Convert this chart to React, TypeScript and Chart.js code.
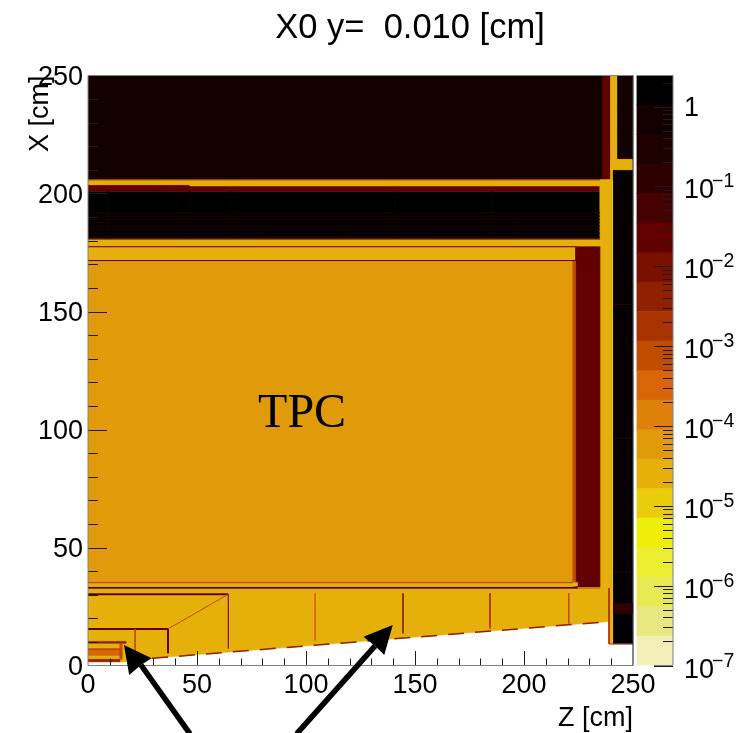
import React, { useEffect, useRef } from "react";
import { Chart, registerables } from "chart.js";

Chart.register(...registerables);

const FONT = "'Liberation Sans', Arial, sans-serif";

// palette: band edges (bottom to top) and colours
const bandEdges = [1e-7, 2.34e-7, 5.48e-7, 1.28e-6, 3e-6, 7.02e-6, 1.64e-5, 3.85e-5, 9.01e-5, 2.11e-4, 4.94e-4, 1.16e-3, 2.71e-3, 6.34e-3, 1.48e-2, 3.48e-2, 8.14e-2, 0.191, 0.446, 1.05, 2.45];
const bandColors = ["#f0f0b8", "#e8e880", "#e8e850", "#eded30", "#eeee0a", "#ebcc0a", "#e6b00a", "#e09a0a", "#de800a", "#d86608", "#c04c00", "#a83300", "#8f2000", "#7a1000", "#620000", "#470000", "#2e0000", "#1e0000", "#130000", "#000000"];
const paletteExponents = [-7, -6, -5, -4, -3, -2, -1, 0];
const paletteMinorMultiples = [2, 3, 4, 5, 6, 7, 8, 9];

// detector blocks: zMin, zMax, xMin, xMax, X0 value (painted in order)
const outerBlocks = [
  [0, 236.2, 205.7, 250, 0.7],
  [236.2, 239.8, 205.7, 250, 0.023],
  [239.8, 243, 205.7, 250, 2.5e-5],
  [243, 249.8, 214.5, 250, 0.7],
  [239.8, 249.6, 209.8, 214.5, 2.5e-5],
  [241, 249.8, 9.2, 209.8, 1.5],
  [241, 249.8, 22, 26.4, 0.12],
];
const upperBlocks = [
  [0, 234.9, 180.7, 201, 1.5],
  [0, 234.9, 201, 203.7, 0.023],
  [0, 234.9, 203.7, 205.9, 2.5e-5],
  [46.8, 234.9, 203.2, 203.7, 2.5e-5],
  [234.9, 240.6, 32.4, 205.9, 2.5e-5],
  [0, 234.9, 177.8, 180.7, 2.5e-5],
  [0, 224.6, 171.8, 177, 2.5e-5],
];
const tpcBlocks = [
  [223.7, 234.9, 33.2, 177.5, 0.023],
  [0, 222.5, 35.5, 171.5, 6e-5],
  [222.5, 223.7, 33.5, 171.8, 7e-4],
  [0, 224.6, 33.6, 35.2, 2.5e-5],
  [224, 234.9, 32.0, 32.9, 2.5e-4],
];
const innerBlocks = [
  [0, 17.5, 1.6, 10.2, 2.5e-5],
  [0, 17.5, 9.4, 10.2, 4e-3],
  [0, 14.7, 6.2, 7.2, 7e-4],
  [0, 14.7, 4.2, 6.2, 2.5e-4],
  [0, 14.7, 1.6, 2.6, 4e-3],
  [14.7, 15.7, 2.6, 9.4, 7e-4],
];
const yellowColumn = [239.2, 240.6, 9.2, 32.8, 2.5e-5];

// the sloped support region: z, x, X0 value
const supportOutlineZ = [0, 238.9, 238.9, 29.4, 16, 0];
const supportOutlineX = [32.4, 32.4, 18.6, 3.05, 1.6, 1.6];
const supportValue = 2.5e-5;

// thin lines: z1, x1, z2, x2, X0 value, width
const detectorLines = [
  [0, 180.7, 234.9, 180.7, 0.023, 1],
  [0, 205.8, 234.9, 205.8, 4e-3, 1],
  [0, 177.4, 224.6, 177.4, 4e-3, 1.5],
  [0, 171.6, 224.6, 171.6, 0.023, 1],
  [0, 35.2, 222.5, 35.2, 1e-3, 1.5],
  [0, 32.9, 224.6, 32.9, 0.023, 2],
  [0, 30.2, 64.4, 30.2, 0.023, 2],
  [0, 15.5, 36.7, 15.5, 0.023, 2],
  [36.7, 15.5, 36.7, 5.2, 0.023, 2],
  [21.6, 15.5, 21.6, 6.4, 7e-4, 1],
  [36.7, 15.5, 64.4, 30.2, 7e-4, 1],
  [64.4, 30.2, 64.4, 7.2, 4e-3, 1],
  [104.2, 30.6, 104.2, 10.6, 4e-4, 1],
  [144.5, 30.6, 144.5, 13.6, 0.012, 1.5],
  [184.4, 30.6, 184.4, 15.7, 2e-3, 1],
  [220.5, 30.6, 220.5, 17.7, 7e-4, 1],
  [239, 32.8, 239, 9.2, 2e-3, 1],
  [239, 9.1, 249.8, 9.1, 2e-3, 1],
];
// faint structure in the dark layers
const stripeHeights = [181.6, 183.2, 184.8, 186.2, 187.6, 189, 190.4, 191.8];
const stripePositions = [9, 46.7, 66, 140.8, 185];
const columnStripes = [242.2, 243.6, 245.4, 247, 248.6];
const columnBreaks = [39.6, 96.4, 153];

// slope edge (dashed brown)
const slopeZ = [29.4, 238.9];
const slopeX = [3.05, 18.6];

// axes
const zTicks = [0, 50, 100, 150, 200, 250];
const xMinorTicks = [10, 20, 30, 40, 60, 70, 80, 90, 110, 120, 130, 140, 160, 170, 180, 190, 210, 220, 230, 240];

// arrows: outline in data units (tip, wing, notch, wing) and tail
const arrowOne = { tip: [16.5, 8.7], wingA: [18.9, -4.0], notch: [24.3, 0.2], wingB: [29.2, 3.1], tail: [46.8, -29] };
const arrowTwo = { tip: [139.8, 17.2], wingA: [126.4, 12.2], notch: [131.7, 8.3], wingB: [135.9, 4.4], tail: [95.7, -29] };

const titleText = "X0 y=  0.010 [cm]";

function colorFor(value: number) {
  for (let i = 0; i < bandColors.length; i++) {
    if (value < bandEdges[i + 1]) return bandColors[i];
  }
  return bandColors[bandColors.length - 1];
}

function polygon(zs: number[], xs: number[], value: number) {
  return {
    data: zs.map((z, i) => ({ x: z, y: xs[i] })),
    showLine: true,
    fill: "shape",
    backgroundColor: colorFor(value),
    borderColor: colorFor(value),
    borderWidth: 0.5,
    pointRadius: 0,
    tension: 0,
  };
}

function block([z0, z1, x0, x1, v]: number[]) {
  return polygon([z0, z1, z1, z0, z0], [x0, x0, x1, x1, x0], v);
}

function line([z1, x1, z2, x2, v, w]: number[], extra: object = {}) {
  return {
    data: [{ x: z1, y: x1 }, { x: z2, y: x2 }],
    showLine: true,
    fill: false,
    borderColor: colorFor(v),
    borderWidth: w,
    pointRadius: 0,
    tension: 0,
    ...extra,
  };
}

export default function App() {
  const mainRef = useRef<HTMLCanvasElement>(null);
  const paletteRef = useRef<HTMLCanvasElement>(null);

  useEffect(() => {
    const groups: any[] = [
      ...outerBlocks.map(block),
      ...upperBlocks.map(block),
      ...tpcBlocks.map(block),
      polygon(supportOutlineZ, supportOutlineX, supportValue),
      block(yellowColumn),
      ...innerBlocks.map(block),
      ...stripeHeights.map((h) => line([0, h, 234.9, h, 0.3, 1])),
      ...stripePositions.map((p) => line([p, 181, p, 201, 0.7, 1])),
      ...columnStripes.map((p) => line([p, 26.4, p, 209.8, 0.7, 1])),
      ...columnBreaks.map((h) => line([241, h, 249.8, h, 0.12, 1])),
      ...detectorLines.map((l) => line(l)),
      line([slopeZ[0], slopeX[0], slopeZ[1], slopeX[1], 4e-3, 1.5], { borderDash: [16, 11] }),
    ];
    const datasets = groups.map((d, i) => ({ ...d, order: groups.length - i }));

    const overlay = {
      id: "overlay",
      afterDatasetsDraw(chart: any) {
        const { ctx, scales } = chart;
        const X = scales.x, Y = scales.y;
        const a = chart.chartArea;
        ctx.save();
        ctx.strokeStyle = "#1c1c1c";
        ctx.lineWidth = 1;
        ctx.beginPath();
        xMinorTicks.forEach((t) => {
          const px = Math.round(X.getPixelForValue(t)) + 0.5;
          ctx.moveTo(px, a.bottom); ctx.lineTo(px, a.bottom - 7);
          const py = Math.round(Y.getPixelForValue(t)) + 0.5;
          ctx.moveTo(a.left, py); ctx.lineTo(a.left + 10, py);
        });
        zTicks.slice(1, 5).forEach((t) => {
          const px = Math.round(X.getPixelForValue(t)) + 0.5;
          ctx.moveTo(px, a.bottom); ctx.lineTo(px, a.bottom - 14.5);
          const py = Math.round(Y.getPixelForValue(t)) + 0.5;
          ctx.moveTo(a.left, py); ctx.lineTo(a.left + 19, py);
        });
        ctx.stroke();
        // frame
        ctx.strokeStyle = "#808080";
        ctx.beginPath();
        ctx.moveTo(a.left, a.top); ctx.lineTo(a.right, a.top);
        ctx.moveTo(a.left, a.top); ctx.lineTo(a.left, a.bottom);
        ctx.moveTo(a.left, a.bottom); ctx.lineTo(a.right, a.bottom);
        ctx.stroke();
        ctx.strokeStyle = "#101010";
        ctx.beginPath();
        ctx.moveTo(a.right, a.top); ctx.lineTo(a.right, a.bottom);
        ctx.stroke();
        // label
        ctx.fillStyle = "#000";
        ctx.font = "48px 'Liberation Serif', serif";
        ctx.textAlign = "center";
        ctx.textBaseline = "middle";
        ctx.fillText("TPC", X.getPixelForValue(98.2), Y.getPixelForValue(106.2));
        // title
        ctx.font = `34.5px ${FONT}`;
        ctx.fillText(titleText, 410, 28);
        // arrows
        [arrowOne, arrowTwo].forEach((ar) => {
          const p = (c: number[]) => [X.getPixelForValue(c[0]), Y.getPixelForValue(c[1])];
          const [tx, ty] = p(ar.tail);
          const [nx, ny] = p(ar.notch);
          ctx.strokeStyle = "#000";
          ctx.lineWidth = 5.5;
          ctx.beginPath();
          ctx.moveTo(tx, ty); ctx.lineTo(nx, ny);
          ctx.stroke();
          ctx.fillStyle = "#000";
          ctx.beginPath();
          const pts = [ar.tip, ar.wingA, ar.notch, ar.wingB].map(p);
          pts.forEach(([x, y], i) => (i ? ctx.lineTo(x, y) : ctx.moveTo(x, y)));
          ctx.closePath();
          ctx.fill();
        });
        ctx.restore();
      },
    };

    const main = new Chart(mainRef.current!, {
      type: "scatter",
      data: { datasets },
      plugins: [overlay],
      options: {
        animation: false,
        responsive: false,
        layout: { padding: { top: 75.5, right: 115, left: 0, bottom: 0 } },
        plugins: { legend: { display: false }, tooltip: { enabled: false }, title: { display: false } },
        scales: {
          x: {
            type: "linear",
            min: 0,
            max: 250,
            afterFit: (s: any) => { s.height = 67.5; },
            grid: { display: false, drawTicks: false },
            border: { display: false },
            ticks: { stepSize: 50, font: { family: FONT, size: 27 }, color: "#000", padding: 4, maxRotation: 0, autoSkip: false },
            title: { display: true, text: "Z [cm]", align: "end", color: "#000", font: { family: FONT, size: 27 }, padding: { top: 0, bottom: -2 } },
          },
          y: {
            type: "linear",
            min: 0,
            max: 250,
            afterFit: (s: any) => { s.width = 88; },
            grid: { display: false, drawTicks: false },
            border: { display: false },
            ticks: { stepSize: 50, font: { family: FONT, size: 27 }, color: "#000", padding: 5, autoSkip: false, labelOffset: 2 },
            title: { display: true, text: "X [cm]", align: "end", color: "#000", font: { family: FONT, size: 27 }, padding: { top: 24, bottom: 0 } },
          },
        },
      },
    } as any);

    const paletteOverlay = {
      id: "paletteOverlay",
      afterDatasetsDraw(chart: any) {
        const { ctx, scales } = chart;
        const Y = scales.y;
        const a = chart.chartArea;
        ctx.save();
        ctx.strokeStyle = "#1c1c1c";
        ctx.lineWidth = 1;
        ctx.beginPath();
        paletteExponents.forEach((e) => {
          const py = Math.round(Y.getPixelForValue(Math.pow(10, e))) + 0.5;
          ctx.moveTo(a.right, py); ctx.lineTo(a.right - 19, py);
          paletteMinorMultiples.forEach((m) => {
            const v = m * Math.pow(10, e);
            if (v > bandEdges[bandEdges.length - 1]) return;
            const my = Math.round(Y.getPixelForValue(v)) + 0.5;
            ctx.moveTo(a.right, my); ctx.lineTo(a.right - 10, my);
          });
        });
        ctx.stroke();
        ctx.strokeStyle = "#808080";
        ctx.beginPath();
        ctx.moveTo(a.left, a.top); ctx.lineTo(a.right, a.top); ctx.lineTo(a.right, a.bottom);
        ctx.lineTo(a.right - 19, a.bottom);
        ctx.stroke();
        ctx.fillStyle = "#000";
        ctx.textBaseline = "alphabetic";
        ctx.textAlign = "left";
        paletteExponents.forEach((e) => {
          const py = Y.getPixelForValue(Math.pow(10, e));
          ctx.font = `27px ${FONT}`;
          if (e === 0) {
            ctx.fillText("1", 684, py + 9);
          } else {
            ctx.fillText("10", 684, py + 12);
            ctx.font = `19.5px ${FONT}`;
            ctx.fillText("\u2212" + String(-e), 712, py + 1);
          }
        });
        ctx.restore();
      },
    };

    const palette = new Chart(paletteRef.current!, {
      type: "bar",
      data: {
        labels: ["X0"],
        datasets: bandColors.map((c, i) => ({
          data: [[bandEdges[i], bandEdges[i + 1]]],
          backgroundColor: c,
          borderWidth: 0,
          grouped: false,
          barPercentage: 1,
          categoryPercentage: 1,
        })),
      },
      plugins: [paletteOverlay],
      options: {
        animation: false,
        responsive: false,
        layout: { padding: { top: 75.5, bottom: 67.5, left: 636.5, right: 0 } },
        plugins: { legend: { display: false }, tooltip: { enabled: false } },
        scales: {
          x: { display: false },
          y: {
            type: "logarithmic",
            position: "right",
            min: bandEdges[0],
            max: bandEdges[bandEdges.length - 1],
            afterFit: (s: any) => { s.width = 75; },
            grid: { display: false, drawTicks: false },
            border: { display: false },
            ticks: { display: false },
          },
        },
      },
    } as any);

    return () => {
      main.destroy();
      palette.destroy();
    };
  }, []);

  const style: React.CSSProperties = { position: "absolute", left: 0, top: 0 };
  return (
    <div style={{ position: "absolute", left: 0, top: 0, width: 748, height: 733, background: "#fff", overflow: "hidden" }}>
      <canvas ref={mainRef} width={748} height={733} style={style} />
      <canvas ref={paletteRef} width={748} height={733} style={style} />
    </div>
  );
}
